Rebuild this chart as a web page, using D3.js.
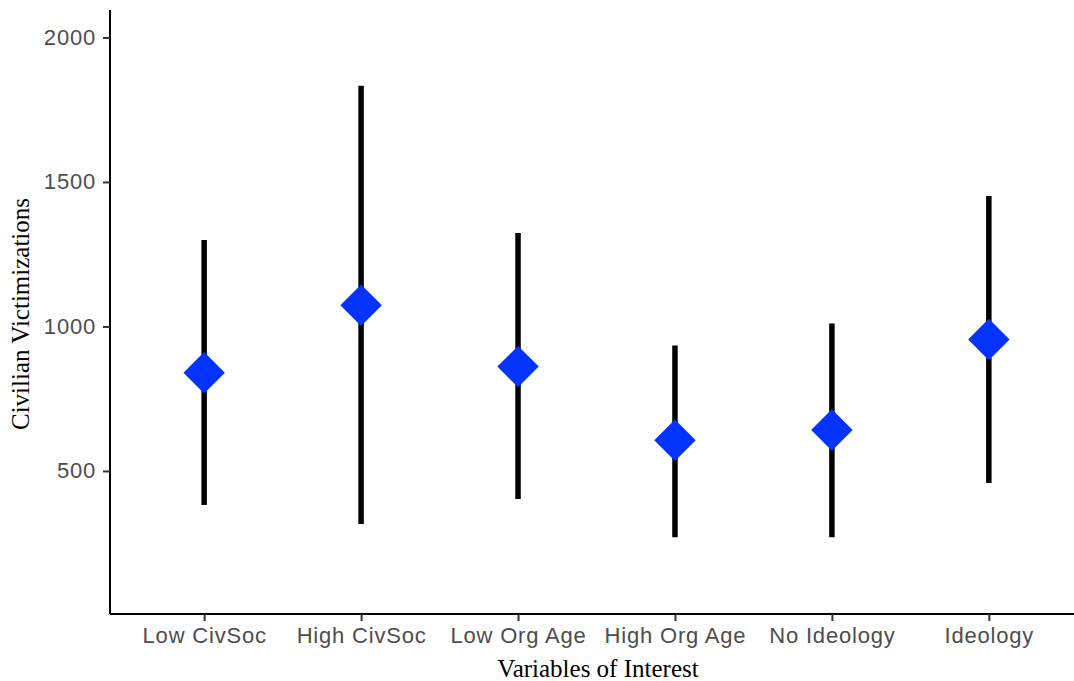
<!DOCTYPE html>
<html>
<head>
<meta charset="utf-8">
<script src="https://cdn.jsdelivr.net/npm/d3@7"></script>
<style>
  body { margin: 0; background: #fff; }
</style>
</head>
<body>
<svg id="chart" width="1074" height="681"></svg>
<script>
  // data
  var categories = ["Low CivSoc", "High CivSoc", "Low Org Age", "High Org Age", "No Ideology", "Ideology"];
  var means = [840, 1073, 861, 606, 642, 955];
  var lower = [382, 316, 403, 271, 271, 458];
  var upper = [1299, 1833, 1323, 934, 1010, 1451];
  var yTicks = [500, 1000, 1500, 2000];

  var svg = d3.select("#chart");

  // panel edges (note: "top" is reserved on window, so use padTop etc.)
  var padLeft = 110, padRight = 1083, padTop = 10, padBottom = 614;

  var x = d3.scalePoint()
    .domain(categories)
    .range([padLeft, padRight])
    .padding(0.6);

  var y = d3.scaleLinear()
    .domain([5, 2095])
    .range([padBottom, padTop]);

  var rows = categories.map(function (c, i) {
    return { cat: c, mean: means[i], lo: lower[i], hi: upper[i] };
  });

  // error bars
  svg.selectAll("line.bar")
    .data(rows)
    .enter()
    .append("line")
    .attr("class", "bar")
    .attr("x1", function (d) { return x(d.cat); })
    .attr("x2", function (d) { return x(d.cat); })
    .attr("y1", function (d) { return y(d.lo); })
    .attr("y2", function (d) { return y(d.hi); })
    .attr("stroke", "#000")
    .attr("stroke-width", 5.5);

  // diamonds
  var diamond = d3.symbol().type(d3.symbolSquare).size(860);
  svg.selectAll("path.pt")
    .data(rows)
    .enter()
    .append("path")
    .attr("class", "pt")
    .attr("d", diamond)
    .attr("transform", function (d) {
      return "translate(" + x(d.cat) + "," + y(d.mean) + ") rotate(45)";
    })
    .attr("fill", "#0433ff");

  // axes
  var yAxis = svg.append("g")
    .attr("transform", "translate(" + padLeft + ",0)")
    .call(d3.axisLeft(y).tickValues(yTicks).tickFormat(d3.format("d"))
      .tickSize(7).tickPadding(7).tickSizeOuter(0));

  var xAxis = svg.append("g")
    .attr("transform", "translate(0," + padBottom + ")")
    .call(d3.axisBottom(x).tickSize(7).tickPadding(6).tickSizeOuter(0));

  [xAxis, yAxis].forEach(function (ax) {
    ax.select(".domain").attr("stroke", "#000").attr("stroke-width", 2);
    ax.selectAll(".tick line").attr("stroke", "#333").attr("stroke-width", 2);
    ax.selectAll(".tick text")
      .attr("fill", "#4d4d4d")
      .style("font-family", "'Liberation Sans', Arial, sans-serif")
      .style("font-size", "22px")
      .style("letter-spacing", "0.8px");
  });

  // the y axis line spans the full panel height
  yAxis.select(".domain").attr("d", "M0," + padTop + "V" + padBottom);
  xAxis.select(".domain").attr("d", "M" + padLeft + ",0H" + 1074);

  // axis titles
  svg.append("text")
    .attr("x", 598)
    .attr("y", 677)
    .attr("text-anchor", "middle")
    .style("font-family", "'Liberation Serif', 'Times New Roman', serif")
    .style("font-size", "25px")
    .text("Variables of Interest");

  svg.append("text")
    .attr("transform", "translate(29,314) rotate(-90)")
    .attr("text-anchor", "middle")
    .style("font-family", "'Liberation Serif', 'Times New Roman', serif")
    .style("font-size", "25px")
    .text("Civilian Victimizations");
</script>
</body>
</html>
